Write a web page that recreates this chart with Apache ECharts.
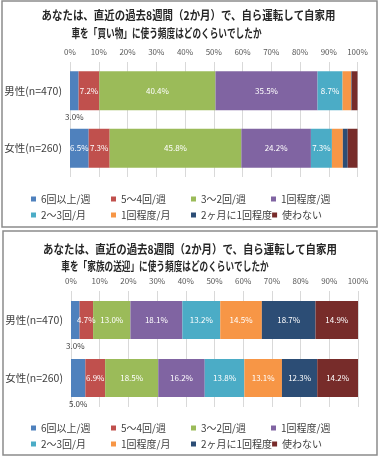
<!DOCTYPE html>
<html><head><meta charset="utf-8">
<script src="https://cdn.jsdelivr.net/npm/echarts@6/dist/echarts.min.js"></script>
<style>html,body{margin:0;padding:0;background:#fff}#c{width:380px;height:457px}</style>
</head><body><div id="c"></div>
<script>
const categories = ['男性(n=470)', '女性(n=260)'];
const seriesNames = ['6回以上/週', '5～4回/週', '3～2回/週', '1回程度/週', '2～3回/月', '1回程度/月', '2ヶ月に1回程度', '使わない'];
const colors = ['#4F81BD', '#C0504D', '#9BBB59', '#8064A2', '#4BACC6', '#F79646', '#2C4D75', '#772C2A'];
const shopMale = [3.0, 7.2, 40.4, 35.5, 8.7, 3.0, 0.2, 2.0];
const shopFemale = [6.5, 7.3, 45.8, 24.2, 7.3, 3.8, 1.7, 3.4];
const pickupMale = [3.0, 4.7, 13.0, 18.1, 13.2, 14.5, 18.7, 14.9];
const pickupFemale = [5.0, 6.9, 18.5, 16.2, 13.8, 13.1, 12.3, 14.2];
const titleShop = ['あなたは、直近の過去8週間（2か月）で、自ら運転して自家用', '車を「買い物」に使う頻度はどのくらいでしたか'];
const titlePickup = ['あなたは、直近の過去8週間（2か月）で、自ら運転して自家用', '車を「家族の送迎」に使う頻度はどのくらいでしたか'];

const FONT = '"Noto Sans CJK JP", "Noto Sans", sans-serif';
const chart = echarts.init(document.getElementById('c'), null, {renderer: 'canvas'});

function itemLabel(i, v) {
  if (i === 0 && v <= 5) return {show: true, position: 'bottom', distance: 3, color: '#404040'};
  if (v < 4) return {show: false};
  return {show: true, position: 'inside', color: '#ffffff'};
}

function makeSeries(gridIdx, male, female, stack, bw) {
  return seriesNames.map((name, i) => ({
    name: name,
    type: 'bar',
    stack: stack,
    xAxisIndex: gridIdx,
    yAxisIndex: gridIdx,
    barWidth: bw,
    itemStyle: {color: colors[i]},
    label: {fontSize: 8, fontFamily: FONT, formatter: p => p.value.toFixed(1) + '%'},
    data: [male[i], female[i]].map(v => ({value: v, label: itemLabel(i, v)})),
    emphasis: {disabled: true}
  }));
}

function xAx(gridIdx) {
  return {
    gridIndex: gridIdx, type: 'value', position: 'top', min: 0, max: 100, interval: 10,
    axisLine: {show: false}, axisTick: {show: false},
    axisLabel: {formatter: '{value}%', fontSize: 8, color: '#595959', margin: 6, fontFamily: FONT},
    splitLine: {lineStyle: {color: '#d9d9d9', width: 1}}
  };
}
function yAx(gridIdx) {
  return {
    gridIndex: gridIdx, type: 'category', data: categories, inverse: true,
    axisLine: {show: false}, axisTick: {show: false},
    axisLabel: {fontSize: 10.5, color: '#404040', margin: 8, fontFamily: FONT}
  };
}
function legend(top) {
  return {
    left: 31, top: top, width: 325, padding: 0, itemGap: 0,
    orient: 'horizontal', icon: 'rect', itemWidth: 5, itemHeight: 5,
    data: seriesNames, selectedMode: false,
    textStyle: {fontSize: 10, color: '#404040', width: 70, lineHeight: 16, fontFamily: FONT}
  };
}
function titleText(x, y, txt, sx) {
  return {type: 'text', x: x, y: y, scaleX: sx, silent: true,
    style: {text: txt, textAlign: 'center', textVerticalAlign: 'middle', fill: '#262626',
      font: 'bold 12px ' + FONT}};
}

chart.setOption({
  animation: false,
  grid: [
    {left: 70, right: 22.5, top: 62, height: 115},
    {left: 71, right: 22, top: 291, height: 116}
  ],
  xAxis: [xAx(0), xAx(1)],
  yAxis: [yAx(0), yAx(1)],
  legend: [legend(191), legend(420)],
  graphic: [
    {type: 'rect', shape: {x: 2, y: 1, width: 375, height: 226}, silent: true, z: -1,
      style: {fill: 'none', stroke: '#8c8c8c', lineWidth: 1.5}},
    {type: 'rect', shape: {x: 3, y: 231, width: 374, height: 224}, silent: true, z: -1,
      style: {fill: 'none', stroke: '#8c8c8c', lineWidth: 1.5}},
    titleText(188.5, 15, titleShop[0], 0.87),
    titleText(166.5, 33, titleShop[1], 0.72),
    titleText(190, 249, titlePickup[0], 0.87),
    titleText(165, 266, titlePickup[1], 0.72)
  ],
  series: makeSeries(0, shopMale, shopFemale, 'shop', 39).concat(makeSeries(1, pickupMale, pickupFemale, 'pickup', 38))
});
</script></body></html>
